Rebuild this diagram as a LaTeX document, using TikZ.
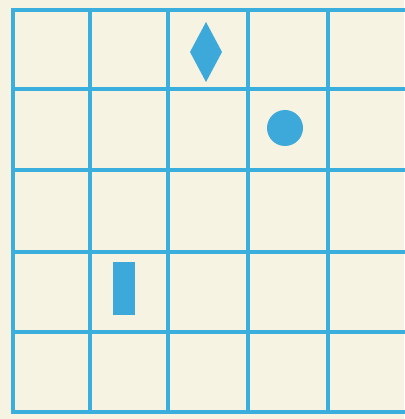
\documentclass[tikz,border=0pt]{standalone}
\usepackage{tikz}
\usetikzlibrary{shapes.geometric}
\usepackage{xcolor}
\definecolor{papercream}{HTML}{F6F3E2}
\definecolor{gridblue}{HTML}{3AAEDD}
\definecolor{shapeblue}{HTML}{3DA9DA}
\tikzset{
  gridline/.style={draw=gridblue, line width=2.8pt, line cap=rect},
  piece/.style={fill=shapeblue, draw=none}
}

\begin{document}
\begin{tikzpicture}[x=0.025cm, y=-0.025cm]
  \fill[papercream] (0,0) rectangle (404,419);
  \useasboundingbox (0,0) rectangle (404,419);
  % grid
  \foreach \gy in {10,89,170,252,332,412}
    \draw[gridline] (13,\gy) -- (410,\gy);
  \foreach \gx in {13,90,168,248,328}
    \draw[gridline] (\gx,10) -- (\gx,412);
  % pieces
  \fill[piece] (206,22) -- (222,52) -- (206,82) -- (190,52) -- cycle;
  \fill[piece] (285,128) circle (18);
  \fill[piece] (113,262) rectangle (135,315);
\end{tikzpicture}
\end{document}
